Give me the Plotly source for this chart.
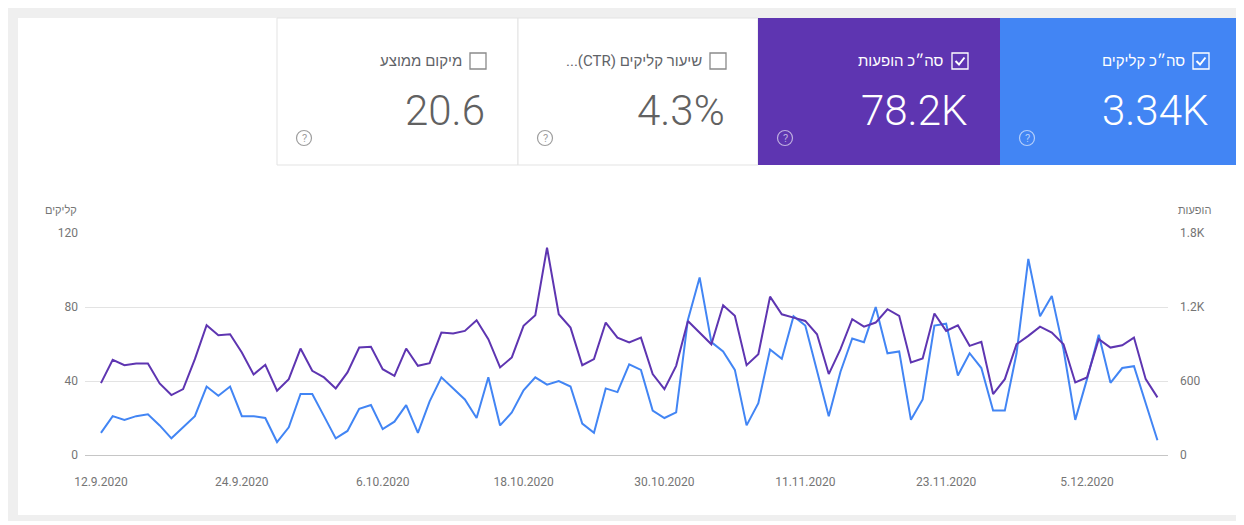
import plotly.graph_objects as go
import pandas as pd

# ---------------- data ----------------
start_date = "2020-09-12"
n_days = 91
clicks = [12, 21, 19, 21, 22, 16, 9, 15, 21, 37, 32, 37, 21, 21, 20, 7, 15, 33, 33, 21,
          9, 13, 25, 27, 14, 18, 27, 12, 29, 42, 36, 30, 20, 42, 16, 23, 35, 42, 38, 40,
          37, 17, 12, 36, 34, 49, 46, 24, 20, 23, 73, 96, 61, 56, 46, 16, 28, 57, 52, 75,
          70, 45, 21, 45, 63, 61, 80, 55, 56, 19, 30, 70, 71, 43, 55, 47, 24, 24, 55, 106,
          75, 86, 57, 19, 41, 65, 39, 47, 48, 28, 8]
impressions = [583, 771, 728, 742, 742, 580, 486, 534, 777, 1052, 971, 979, 831, 653, 731, 521,
               615, 863, 683, 629, 540, 670, 871, 877, 696, 642, 863, 723, 745, 993, 985, 1006,
               1093, 939, 710, 791, 1047, 1133, 1681, 1141, 1033, 728, 777, 1074, 952, 912, 952,
               656, 534, 723, 1087, 993, 898, 1214, 1128, 728, 817, 1284, 1141, 1114, 1087, 979,
               656, 858, 1101, 1041, 1074, 1182, 1128, 750, 782, 1147, 1006, 1052, 885, 917, 494,
               615, 898, 966, 1041, 993, 898, 588, 629, 939, 871, 890, 952, 615, 467]
dates = pd.date_range(start_date, periods=n_days, freq="D")

left_ticks = [0, 40, 80, 120]
right_tickvals = [0, 600, 1200, 1800]
right_ticktext = ["0", "600", "1.2K", "1.8K"]

tile_labels = ["מיקום ממוצע", "...(CTR) שיעור קליקים", "סה״כ הופעות", "סה״כ קליקים"]
tile_values = ["20.6", "4.3%", "78.2K", "3.34K"]
tile_checked = [False, False, True, True]

left_title = "קליקים"
right_title = "הופעות"

# ---------------- geometry helpers (page pixel coords) ----------------
OFF = 8  # page body margin
W, H = 1244 - OFF, 525 - OFF
PL, PR, PT, PB = 85, 1168, 233, 455   # plot area in page pixels
L, R, T, B = PL - OFF, PR - OFF, PT - OFF, PB - OFF

def px(x):
    return (x - PL) / (PR - PL)

def py(y):
    return (PB - y) / (PB - PT)

FONT = "Roboto, 'Liberation Sans', 'DejaVu Sans', sans-serif"
BLUE = "#4285f4"
PURPLE = "#5e35b1"
GREY_TXT = "#757575"

fig = go.Figure()
fig.add_trace(go.Scatter(x=dates, y=clicks, mode="lines", name="קליקים",
                         line=dict(color=BLUE, width=2), yaxis="y"))
fig.add_trace(go.Scatter(x=dates, y=impressions, mode="lines", name="הופעות",
                         line=dict(color=PURPLE, width=2), yaxis="y2"))

shapes = []
annotations = []

def rect(x0, y0, x1, y1, fill, line_color=None, line_width=0, layer="below"):
    shapes.append(dict(type="rect", xref="paper", yref="paper",
                       x0=px(x0), x1=px(x1), y0=py(y1), y1=py(y0),
                       fillcolor=fill, layer=layer,
                       line=dict(color=line_color or fill, width=line_width)))

# outer shadow and card
rect(0, 6, 1250, 521, "#efefef")
rect(18, 18, 1250, 515, "#ffffff")

# tiles
tile_edges = [(277, 518), (518, 758), (758, 1000), (1000, 1241)]
tile_fill = ["#ffffff", "#ffffff", PURPLE, BLUE]
for i, (x0, x1) in enumerate(tile_edges):
    if tile_fill[i] == "#ffffff":
        rect(x0, 18, x1, 165, "#ffffff", "#e3e3e3", 1)
    else:
        rect(x0, 18, x1, 165, tile_fill[i])

for i, (x0, x1) in enumerate(tile_edges):
    colored = tile_checked[i]
    fg = "#ffffff" if colored else "#5f6368"
    box_right = x1 - 32
    box_left = box_right - 16
    # checkbox
    shapes.append(dict(type="rect", xref="paper", yref="paper",
                       x0=px(box_left), x1=px(box_right), y0=py(69), y1=py(53),
                       line=dict(color="#ffffff" if colored else "#8a8a8a", width=1.3),
                       fillcolor="rgba(0,0,0,0)", layer="above"))
    if colored:
        path = "M {},{} L {},{} L {},{}".format(
            px(box_left + 3.5), py(61), px(box_left + 7), py(64.5),
            px(box_left + 12.5), py(57.5))
        shapes.append(dict(type="path", xref="paper", yref="paper", path=path,
                           line=dict(color="#ffffff", width=2), layer="above"))
    # label
    annotations.append(dict(xref="paper", yref="paper", x=px(box_left - 6), y=py(61),
                            xanchor="right", yanchor="middle", showarrow=False,
                            text=tile_labels[i],
                            font=dict(family=FONT, size=15, color=fg)))
    # value
    annotations.append(dict(xref="paper", yref="paper", x=px(box_right + 1), y=py(110),
                            xanchor="right", yanchor="middle", showarrow=False,
                            text=tile_values[i],
                            font=dict(family=FONT, size=42, weight=300,
                                      color="#ffffff" if colored else "#616161")))
    # help icon
    cx, cy, r = x0 + 27, 138, 7.5
    icol = "rgba(255,255,255,0.6)" if colored else "#9e9e9e"
    shapes.append(dict(type="circle", xref="paper", yref="paper",
                       x0=px(cx - r), x1=px(cx + r), y0=py(cy + r), y1=py(cy - r),
                       line=dict(color=icol, width=1.2), layer="above"))
    annotations.append(dict(xref="paper", yref="paper", x=px(cx), y=py(cy),
                            xanchor="center", yanchor="middle", showarrow=False,
                            text="?", font=dict(family=FONT, size=11, color=icol)))

# axis titles
annotations.append(dict(xref="paper", yref="paper", x=px(79), y=py(210),
                        xanchor="right", yanchor="middle", showarrow=False,
                        text=left_title, font=dict(family=FONT, size=11, color=GREY_TXT)))
annotations.append(dict(xref="paper", yref="paper", x=px(1176), y=py(210),
                        xanchor="left", yanchor="middle", showarrow=False,
                        text=right_title, font=dict(family=FONT, size=11, color=GREY_TXT)))

x0_date = pd.Timestamp(start_date) - pd.Timedelta(days=1.36)
x1_date = pd.Timestamp(start_date) + pd.Timedelta(days=90.9)

fig.update_layout(
    width=W, height=H,
    margin=dict(l=L, r=W - R, t=T, b=H - B, pad=0),
    paper_bgcolor="#ffffff",
    plot_bgcolor="rgba(0,0,0,0)",
    showlegend=False,
    font=dict(family=FONT, size=12, color=GREY_TXT),
    shapes=shapes,
    annotations=annotations,
    xaxis=dict(type="date", range=[x0_date, x1_date],
               tickformat="%-d.%-m.%Y", tick0=start_date, dtick=12 * 86400000,
               showgrid=False, zeroline=False, showline=False, ticks="",
               tickfont=dict(size=12, color=GREY_TXT), ticklabelstandoff=18),
    yaxis=dict(range=[0, 120], tickvals=left_ticks, showgrid=True,
               gridcolor="#e3e3e3", gridwidth=1, zeroline=True,
               zerolinecolor="#c6c6c6", zerolinewidth=1.3, showline=False, ticks="",
               tickfont=dict(size=12, color=GREY_TXT), ticklabelstandoff=6),
    yaxis2=dict(range=[0, 1800], tickvals=right_tickvals, ticktext=right_ticktext,
                overlaying="y", side="right", showgrid=False, zeroline=False,
                showline=False, ticks="",
                tickfont=dict(size=12, color=GREY_TXT), ticklabelstandoff=11),
)

fig.write_html("out.html")
